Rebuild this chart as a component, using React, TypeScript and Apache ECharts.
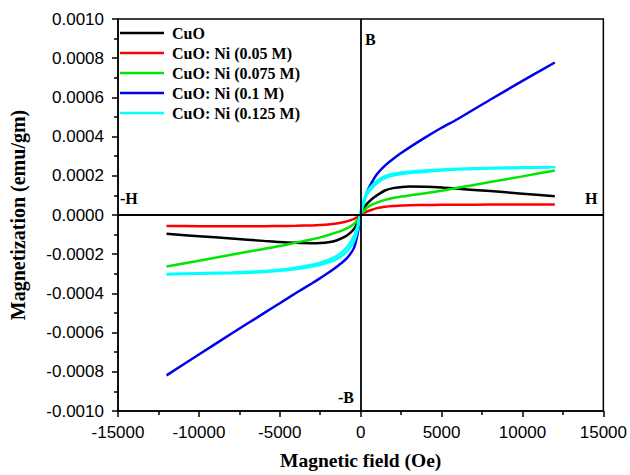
import React, { useEffect, useRef } from "react";
import * as echarts from "echarts";

const fieldOe = [-12000, -10000, -8000, -6000, -5000, -4000, -3000, -2500, -2000, -1500, -1000, -700, -400, -200, 0, 200, 400, 700, 1000, 1500, 2000, 2500, 3000, 4000, 5000, 6000, 8000, 10000, 12000];

const seriesNames = ["CuO", "CuO: Ni (0.05 M)", "CuO: Ni (0.075 M)", "CuO: Ni (0.1 M)", "CuO: Ni (0.125 M)"];
const seriesColors = ["#000000", "#ff0000", "#00e600", "#0000ee", "#00ffff"];

const cuo = [-0.000096, -0.000108, -0.00012, -0.000132, -0.000138, -0.000142, -0.000144, -0.000143, -0.000139, -0.00013, -0.000112, -0.000095, -0.00007, -0.00004, 0, 0.000035, 0.000058, 0.000082, 0.0001, 0.000125, 0.000137, 0.000142, 0.000145, 0.000144, 0.00014, 0.000134, 0.000122, 0.000109, 0.000096];
const ni005 = [-0.000056, -0.000057, -0.000057, -0.000057, -0.000056, -0.000055, -0.000053, -0.000051, -0.000048, -0.000043, -0.000036, -0.000029, -0.00002, -0.000011, 0, 0.00001, 0.000018, 0.000027, 0.000035, 0.000042, 0.000046, 0.000048, 0.00005, 0.000051, 0.000052, 0.000052, 0.000053, 0.000053, 0.000053];
const ni0075 = [-0.000263, -0.000233, -0.000203, -0.000173, -0.000158, -0.000141, -0.000124, -0.000114, -0.000102, -0.000089, -0.000073, -0.000061, -0.000044, -0.000025, 0, 0.00002, 0.000038, 0.000053, 0.000063, 0.000077, 0.000087, 0.000094, 0.0001, 0.000111, 0.000124, 0.000139, 0.000168, 0.000197, 0.000227];
const ni01 = [-0.000818, -0.000712, -0.000606, -0.000502, -0.00045, -0.000398, -0.000348, -0.000322, -0.000295, -0.000265, -0.000232, -0.000205, -0.000165, -0.0001, 0, 0.00007, 0.00012, 0.000168, 0.000208, 0.000252, 0.000286, 0.000316, 0.000344, 0.000396, 0.000445, 0.00049, 0.000588, 0.000684, 0.000778];
const ni0125 = [-0.000303, -0.0003, -0.000297, -0.000291, -0.000285, -0.000276, -0.000263, -0.000254, -0.000242, -0.000226, -0.000198, -0.000172, -0.000132, -0.00008, 0, 0.00006, 0.000105, 0.000137, 0.000162, 0.000188, 0.000201, 0.000209, 0.000214, 0.000221, 0.000227, 0.000232, 0.000237, 0.00024, 0.000243];
const ni0125Return = [-0.000301, -0.000297, -0.000293, -0.000286, -0.000279, -0.000269, -0.000254, -0.000243, -0.000229, -0.00021, -0.000178, -0.000148, -0.000103, -0.000055, 0.00002, 0.00008, 0.00012, 0.00015, 0.000174, 0.000198, 0.00021, 0.000217, 0.000221, 0.000227, 0.000232, 0.000236, 0.00024, 0.000243, 0.000245];

const xTicks = { min: -15000, max: 15000, interval: 5000 };
const yTicks = { min: -0.001, max: 0.001, interval: 0.0002 };

const serif = "Liberation Serif";
const sans = "Liberation Sans";

export default function App() {
  const ref = useRef<HTMLDivElement>(null);
  useEffect(() => {
    if (!ref.current) return;
    const chart = echarts.init(ref.current, undefined, { renderer: "svg" });
    const pairs = (vals: number[]) => fieldOe.map((h, i) => [h, vals[i]]);
    const cyanLoop = pairs(ni0125).concat(pairs(ni0125Return).reverse());
    const allData = [pairs(cuo), pairs(ni005), pairs(ni0075), pairs(ni01), cyanLoop];

    const series: any[] = allData.map((d, i) => ({
      name: seriesNames[i],
      type: "line",
      data: d,
      symbol: "none",
      smooth: 0.3,
      lineStyle: { color: seriesColors[i], width: 2.5 },
      itemStyle: { color: seriesColors[i] },
      z: 3,
    }));
    series.push({
      type: "line",
      data: [],
      silent: true,
      z: 2,
      markLine: {
        silent: true,
        symbol: "none",
        label: { show: false },
        lineStyle: { color: "#000", width: 1.8, type: "solid" },
        data: [{ xAxis: 0 }, { yAxis: 0 }],
      },
    });

    chart.setOption({
      animation: false,
      backgroundColor: "#ffffff",
      grid: { left: 116, right: 26, top: 19, bottom: 58, show: true, borderColor: "#000", borderWidth: 1.5, backgroundColor: "transparent" },
      legend: {
        orient: "vertical",
        left: 120,
        top: 23,
        padding: 0,
        icon: "rect",
        itemWidth: 44,
        itemHeight: 2.5,
        itemGap: 0,
        data: seriesNames,
        textStyle: { fontFamily: serif, fontWeight: "bold", fontSize: 16, color: "#000", lineHeight: 20, padding: [0, 0, 0, 3] },
      },
      xAxis: {
        type: "value",
        min: xTicks.min,
        max: xTicks.max,
        interval: xTicks.interval,
        name: "Magnetic field (Oe)",
        nameLocation: "middle",
        nameGap: 39,
        nameTextStyle: { fontFamily: serif, fontWeight: "bold", fontSize: 19.5, color: "#000" },
        axisLine: { show: true, onZero: false, lineStyle: { color: "#000", width: 1.5 } },
        axisTick: { show: true, inside: false, length: 6, lineStyle: { color: "#000", width: 1.5 } },
        minorTick: { show: true, splitNumber: 2, length: 4, lineStyle: { color: "#000", width: 1.5 } },
        splitLine: { show: false },
        axisLabel: { fontFamily: sans, fontSize: 17, color: "#000", margin: 13, formatter: (v: number) => String(v) },
      },
      yAxis: {
        type: "value",
        min: yTicks.min,
        max: yTicks.max,
        interval: yTicks.interval,
        name: "Magnetization (emu/gm)",
        nameLocation: "middle",
        nameGap: 90,
        nameTextStyle: { fontFamily: serif, fontWeight: "bold", fontSize: 20, color: "#000" },
        axisLine: { show: true, onZero: false, lineStyle: { color: "#000", width: 1.5 } },
        axisTick: { show: true, inside: false, length: 6, lineStyle: { color: "#000", width: 1.5 } },
        minorTick: { show: true, splitNumber: 2, length: 4, lineStyle: { color: "#000", width: 1.5 } },
        splitLine: { show: false },
        axisLabel: {
          fontFamily: sans,
          fontSize: 17,
          color: "#000",
          margin: 14,
          formatter: (v: number) => (Math.abs(v) < 1e-12 ? "0.0000" : v.toFixed(4)),
        },
      },
      graphic: [
        { type: "text", left: 365, top: 31, style: { text: "B", font: `bold 16px "${serif}"`, fill: "#000" } },
        { type: "text", left: 338, top: 389, style: { text: "-B", font: `bold 16px "${serif}"`, fill: "#000" } },
        { type: "text", left: 120, top: 190, style: { text: "-H", font: `bold 16px "${serif}"`, fill: "#000" } },
        { type: "text", left: 585, top: 190, style: { text: "H", font: `bold 16px "${serif}"`, fill: "#000" } },
      ],
      series,
    });
    return () => chart.dispose();
  }, []);
  return <div ref={ref} style={{ width: 630, height: 475, position: "absolute", left: 0, top: 0 }} />;
}
